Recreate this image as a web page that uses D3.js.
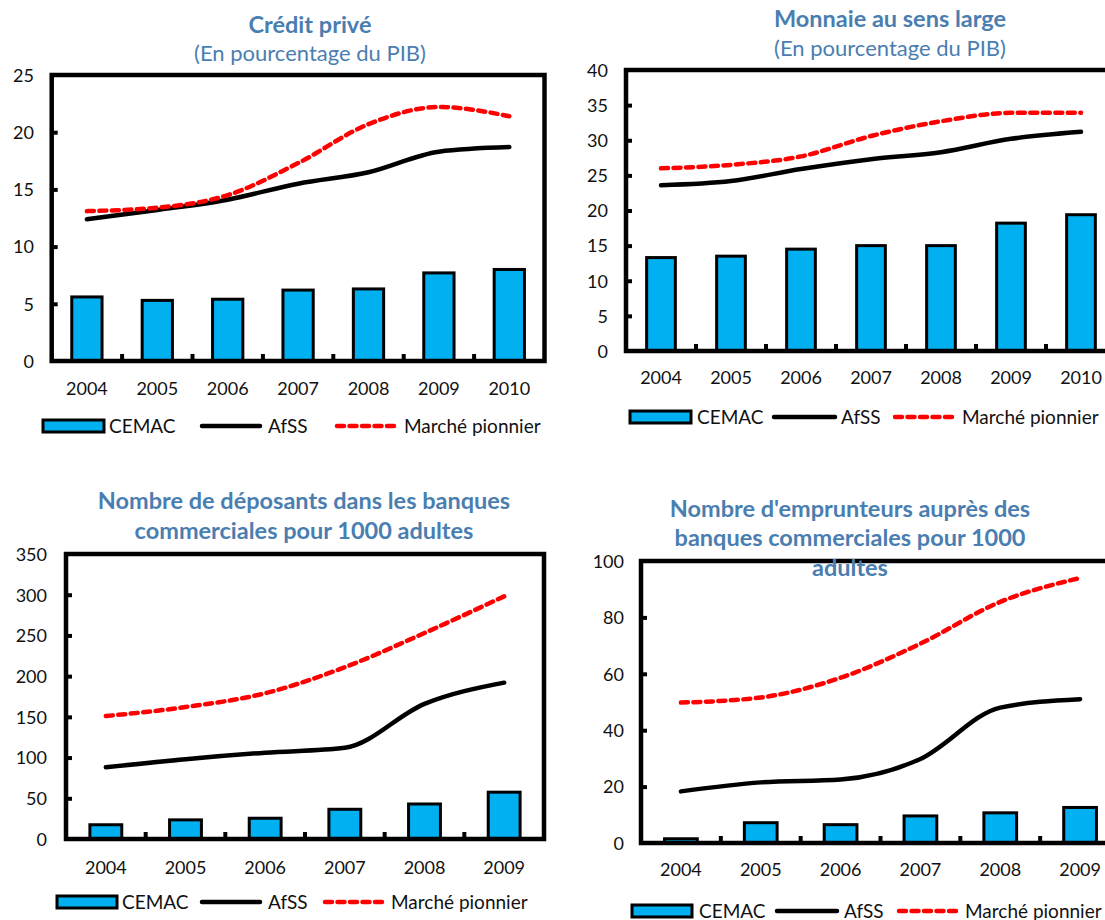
<!DOCTYPE html>
<html>
<head>
<meta charset="utf-8">
<script src="https://cdn.jsdelivr.net/npm/d3@7"></script>
<style>
  html, body { margin: 0; padding: 0; background: #fff; overflow: hidden; }
  svg { display: block; font-family: Lato, "Open Sans", sans-serif; }
</style>
</head>
<body>
<svg id="chart" width="1105" height="920"></svg>
<script>
// ---- Data ----
const years7 = ["2004", "2005", "2006", "2007", "2008", "2009", "2010"];
const years6 = ["2004", "2005", "2006", "2007", "2008", "2009"];

const seriesNames = ["CEMAC", "AfSS", "Marché pionnier"];

// Crédit privé (% du PIB)
const creditCEMAC    = [5.6, 5.3, 5.4, 6.2, 6.3, 7.7, 8.0];
const creditAfSS     = [12.4, 13.2, 14.1, 15.5, 16.5, 18.3, 18.7];
const creditPionnier = [13.1, 13.4, 14.5, 17.3, 20.7, 22.2, 21.4];
const creditTicks    = [0, 5, 10, 15, 20, 25];

// Monnaie au sens large (% du PIB)
const monnaieCEMAC    = [13.3, 13.5, 14.5, 15.0, 15.0, 18.2, 19.4];
const monnaieAfSS     = [23.6, 24.2, 25.9, 27.3, 28.3, 30.2, 31.2];
const monnaiePionnier = [26.0, 26.5, 27.7, 30.6, 32.7, 33.9, 33.9];
const monnaieTicks    = [0, 5, 10, 15, 20, 25, 30, 35, 40];

// Déposants pour 1000 adultes
const deposantsCEMAC    = [17.5, 23.5, 25.5, 36.5, 43, 57.5];
const deposantsAfSS     = [88, 98, 106, 112, 166, 192];
const deposantsPionnier = [151, 162, 179, 211, 253, 298];
const deposantsTicks    = [0, 50, 100, 150, 200, 250, 300, 350];

// Emprunteurs pour 1000 adultes
const emprunteursCEMAC    = [1.5, 7.2, 6.5, 9.6, 10.7, 12.6];
const emprunteursAfSS     = [18.3, 21.5, 22.5, 29.8, 48, 51];
const emprunteursPionnier = [49.8, 51.6, 58.6, 70.7, 85.5, 94];
const emprunteursTicks    = [0, 20, 40, 60, 80, 100];

// ---- Styles ----
const BAR_FILL = "#00b0f0";
const TITLE_COLOR = "#4a7eb0";
const RED = "#ff0000";
const FONT = "Lato, sans-serif";

const svg = d3.select("#chart");

const panels = [
  {
    cats: years7, bars: creditCEMAC, afss: creditAfSS, pion: creditPionnier, ticks: creditTicks,
    frame: { x0: 51.7, x1: 544.5, y0: 75, y1: 361 }, barFrac: 0.43,
    yLabelX: 34, xLabelY: 389, titleX: 310,
    title: [{ t: "Crédit privé", y: 25, bold: true }, { t: "(En pourcentage du PIB)", y: 53, bold: false }],
    legend: { y: 426, sw: [43, 104], t1: 109, l2: [202, 260], t2: 268, l3: [337, 398], t3: 404 }
  },
  {
    cats: years7, bars: monnaieCEMAC, afss: monnaieAfSS, pion: monnaiePionnier, ticks: monnaieTicks,
    frame: { x0: 626, x1: 1116, y0: 70, y1: 351 }, barFrac: 0.41,
    yLabelX: 608, xLabelY: 378, titleX: 890,
    title: [{ t: "Monnaie au sens large", y: 19, bold: true }, { t: "(En pourcentage du PIB)", y: 48, bold: false }],
    legend: { y: 417, sw: [630, 691], t1: 697, l2: [774, 835], t2: 841, l3: [895, 956], t3: 962 }
  },
  {
    cats: years6, bars: deposantsCEMAC, afss: deposantsAfSS, pion: deposantsPionnier, ticks: deposantsTicks,
    frame: { x0: 66, x1: 544, y0: 554, y1: 839 }, barFrac: 0.40,
    yLabelX: 47, xLabelY: 868, titleX: 304,
    title: [{ t: "Nombre de déposants dans les banques", y: 501, bold: true },
            { t: "commerciales pour 1000 adultes", y: 531, bold: true }],
    legend: { y: 902, sw: [57, 117], t1: 122, l2: [202, 260], t2: 268, l3: [325, 384], t3: 391 }
  },
  {
    cats: years6, bars: emprunteursCEMAC, afss: emprunteursAfSS, pion: emprunteursPionnier, ticks: emprunteursTicks,
    frame: { x0: 641, x1: 1120, y0: 561, y1: 843 }, barFrac: 0.41,
    yLabelX: 624, xLabelY: 870, titleX: 850,
    title: [{ t: "Nombre d'emprunteurs auprès des", y: 509, bold: true },
            { t: "banques commerciales pour 1000", y: 538, bold: true },
            { t: "adultes", y: 568, bold: true }],
    legend: { y: 911, sw: [632, 692], t1: 699, l2: [777, 837], t2: 844, l3: [899, 958], t3: 965 }
  }
];

function drawPanel(p) {
  const g = svg.append("g");
  const f = p.frame;

  const x = d3.scaleBand().domain(p.cats).range([f.x0, f.x1]).padding(0);
  const y = d3.scaleLinear().domain([0, d3.max(p.ticks)]).range([f.y1, f.y0]);
  const bw = x.bandwidth() * p.barFrac;
  const cx = d => x(d) + x.bandwidth() / 2;

  // bars
  g.selectAll("rect.bar").data(p.cats).join("rect")
    .attr("class", "bar")
    .attr("x", d => cx(d) - bw / 2)
    .attr("width", bw)
    .attr("y", (d, i) => y(p.bars[i]))
    .attr("height", (d, i) => y(0) - y(p.bars[i]))
    .attr("fill", BAR_FILL)
    .attr("stroke", "#000")
    .attr("stroke-width", 3);

  // smoothed lines
  const line = d3.line()
    .x(d => cx(d.c))
    .y(d => y(d.v))
    .curve(d3.curveMonotoneX);

  g.append("path")
    .datum(p.cats.map((c, i) => ({ c, v: p.afss[i] })))
    .attr("d", line)
    .attr("fill", "none")
    .attr("stroke", "#000")
    .attr("stroke-width", 4.5)
    .attr("stroke-linecap", "round");

  g.append("path")
    .datum(p.cats.map((c, i) => ({ c, v: p.pion[i] })))
    .attr("d", line)
    .attr("fill", "none")
    .attr("stroke", RED)
    .attr("stroke-width", 4.5)
    .attr("stroke-dasharray", "7,5.5")
    .attr("stroke-linecap", "round");

  // frame
  g.append("rect")
    .attr("x", f.x0).attr("y", f.y0)
    .attr("width", f.x1 - f.x0).attr("height", f.y1 - f.y0)
    .attr("fill", "none")
    .attr("stroke", "#000")
    .attr("stroke-width", 4.5);

  // y axis: inward ticks, labels to the left
  const yAxis = d3.axisLeft(y).tickValues(p.ticks).tickSize(-6).tickPadding(0);
  const ya = g.append("g").attr("transform", `translate(${f.x0},0)`).call(yAxis);
  ya.select(".domain").remove();
  ya.selectAll(".tick line")
    .attr("stroke", "#000").attr("stroke-width", 4)
    .attr("display", d => (d === 0 || d === d3.max(p.ticks)) ? "none" : null);
  ya.selectAll(".tick text")
    .attr("x", p.yLabelX - f.x0)
    .attr("dy", "0.35em")
    .attr("text-anchor", "end")
    .attr("font-size", 18)
    .attr("font-family", FONT)
    .attr("fill", "#111");

  // x axis: category labels, inward ticks at band boundaries
  const xAxis = d3.axisBottom(x).tickSize(0).tickPadding(0);
  const xa = g.append("g").attr("transform", `translate(0,${f.y1})`).call(xAxis);
  xa.select(".domain").remove();
  xa.selectAll(".tick text")
    .attr("y", p.xLabelY - f.y1)
    .attr("dy", "0.35em")
    .attr("font-size", 18)
    .attr("font-family", FONT)
    .attr("fill", "#111");

  g.selectAll("line.xtick").data(p.cats.slice(1)).join("line")
    .attr("class", "xtick")
    .attr("x1", d => x(d)).attr("x2", d => x(d))
    .attr("y1", f.y1).attr("y2", f.y1 - 7)
    .attr("stroke", "#000").attr("stroke-width", 4);

  // legend
  const L = p.legend;
  const lg = g.append("g").attr("font-size", 19).attr("font-family", FONT).attr("fill", "#111");
  lg.append("rect")
    .attr("x", L.sw[0]).attr("y", L.y - 6)
    .attr("width", L.sw[1] - L.sw[0]).attr("height", 12)
    .attr("fill", BAR_FILL).attr("stroke", "#000").attr("stroke-width", 3);
  lg.append("text").attr("x", L.t1).attr("y", L.y).attr("dy", "0.35em").text(seriesNames[0]);
  lg.append("line")
    .attr("x1", L.l2[0]).attr("x2", L.l2[1]).attr("y1", L.y).attr("y2", L.y)
    .attr("stroke", "#000").attr("stroke-width", 4.5).attr("stroke-linecap", "round");
  lg.append("text").attr("x", L.t2).attr("y", L.y).attr("dy", "0.35em").text(seriesNames[1]);
  lg.append("line")
    .attr("x1", L.l3[0]).attr("x2", L.l3[1]).attr("y1", L.y).attr("y2", L.y)
    .attr("stroke", RED).attr("stroke-width", 4.5)
    .attr("stroke-dasharray", "7,5.5").attr("stroke-linecap", "round");
  lg.append("text").attr("x", L.t3).attr("y", L.y).attr("dy", "0.35em").text(seriesNames[2]);

  // title (drawn last, sits above the frame)
  g.selectAll("text.title").data(p.title).join("text")
    .attr("class", "title")
    .attr("x", p.titleX)
    .attr("y", d => d.y)
    .attr("dy", "0.35em")
    .attr("text-anchor", "middle")
    .attr("font-family", FONT)
    .attr("font-size", d => d.bold ? 23.5 : 22)
    .attr("font-weight", d => d.bold ? "bold" : "normal")
    .attr("fill", TITLE_COLOR)
    .text(d => d.t);
}

panels.forEach(drawPanel);
</script>
</body>
</html>
